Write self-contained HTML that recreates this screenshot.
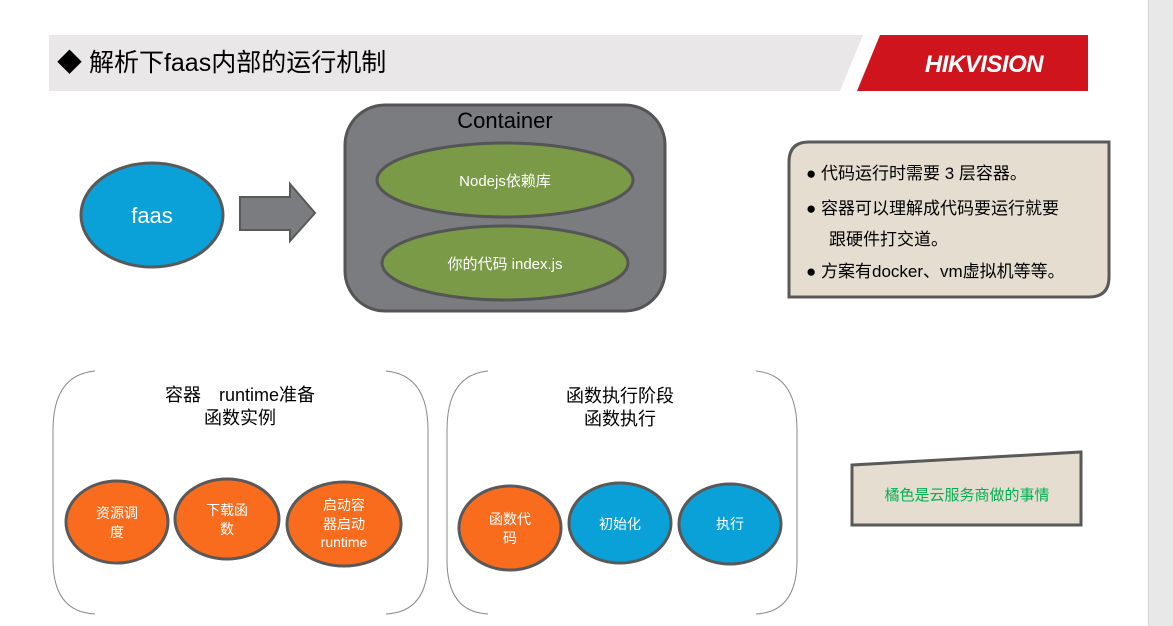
<!DOCTYPE html>
<html><head><meta charset="utf-8"><style>
html,body{margin:0;padding:0;background:#fff;width:1173px;height:626px;overflow:hidden}
svg{display:block}
text{font-family:"Liberation Sans","Noto Sans CJK SC",sans-serif}
</style></head><body>
<svg width="1173" height="626" viewBox="0 0 1173 626" xmlns="http://www.w3.org/2000/svg">
<rect x="1148" y="0" width="25" height="626" fill="#e8e8e8"/>
<rect x="1148" y="0" width="1" height="626" fill="#d4d4d4"/>
<polygon points="49,35 863,35 840,91 49,91" fill="#e9e7e8"/>
<polygon points="880,35 1088,35 1088,91 857,91" fill="#d0141e"/>
<text x="984" y="72" font-size="24" font-weight="bold" font-style="italic" fill="#fff" text-anchor="middle" letter-spacing="-0.5">HIKVISION</text>
<text x="57" y="71" font-size="25" fill="#000">◆ 解析下faas内部的运行机制</text>
<ellipse cx="152" cy="215" rx="71" ry="52" fill="#0aa0d8" stroke="#595959" stroke-width="3"/>
<text x="152" y="223" font-size="22" fill="#fff" text-anchor="middle">faas</text>
<polygon points="240,197 290,197 290,184 315,213 290,241 290,230 240,230" fill="#7b7c80" stroke="#595959" stroke-width="2"/>
<rect x="345" y="105" width="320" height="206" rx="40" fill="#7b7c80" stroke="#555" stroke-width="3"/>
<text x="505" y="128" font-size="22" fill="#000" text-anchor="middle">Container</text>
<ellipse cx="505" cy="180" rx="128" ry="37" fill="#7a9a48" stroke="#555" stroke-width="3"/>
<text x="505" y="186" font-size="15" fill="#fff" text-anchor="middle">Nodejs依赖库</text>
<ellipse cx="505" cy="263" rx="123" ry="37" fill="#7a9a48" stroke="#555" stroke-width="3"/>
<text x="505" y="269" font-size="15" fill="#fff" text-anchor="middle">你的代码 index.js</text>
<path d="M809,142 L1109,142 L1109,277 Q1109,297 1089,297 L789,297 L789,162 Q789,142 809,142 Z" fill="#e6ddd1" stroke="#595959" stroke-width="3"/>
<g font-size="17" fill="#000">
<text x="806" y="179">●  代码运行时需要 3 层容器。</text>
<text x="806" y="214">●  容器可以理解成代码要运行就要</text>
<text x="829" y="245">跟硬件打交道。</text>
<text x="806" y="277">●  方案有docker、vm虚拟机等等。</text>
</g>
<g fill="none" stroke="#888" stroke-width="1">
<path d="M95,371 Q53,375 53,430 L53,560 Q53,612 95,614"/>
<path d="M386,371 Q428,375 428,430 L428,560 Q428,612 386,614"/>
<path d="M488,371 Q447,375 447,430 L447,560 Q447,612 488,614"/>
<path d="M756,371 Q797,375 797,430 L797,560 Q797,612 756,614"/>
</g>
<g font-size="18" fill="#000" text-anchor="middle">
<text x="240" y="401">容器　runtime准备</text>
<text x="240" y="424">函数实例</text>
<text x="620" y="402">函数执行阶段</text>
<text x="620" y="425">函数执行</text>
</g>
<g stroke="#595959" stroke-width="3">
<ellipse cx="117" cy="522" rx="51" ry="41" fill="#f96c1d"/>
<ellipse cx="227" cy="519" rx="52" ry="40" fill="#f96c1d"/>
<ellipse cx="344" cy="524" rx="57" ry="42" fill="#f96c1d"/>
<ellipse cx="510" cy="528" rx="51" ry="42" fill="#f96c1d"/>
<ellipse cx="620" cy="523" rx="51" ry="40" fill="#0aa0d8"/>
<ellipse cx="730" cy="524" rx="51" ry="40" fill="#0aa0d8"/>
</g>
<g font-size="14" fill="#fff" text-anchor="middle">
<text x="117" y="518">资源调</text><text x="117" y="537">度</text>
<text x="227" y="515">下载函</text><text x="227" y="534">数</text>
<text x="344" y="510">启动容</text><text x="344" y="529">器启动</text><text x="344" y="547">runtime</text>
<text x="510" y="524">函数代</text><text x="510" y="543">码</text>
<text x="620" y="529">初始化</text>
<text x="730" y="529">执行</text>
</g>
<polygon points="852,465 1081,452 1081,525 852,525" fill="#e6ddd1" stroke="#595959" stroke-width="3"/>
<text x="967" y="500" font-size="15" fill="#00b050" text-anchor="middle">橘色是云服务商做的事情</text>
</svg>
</body></html>
